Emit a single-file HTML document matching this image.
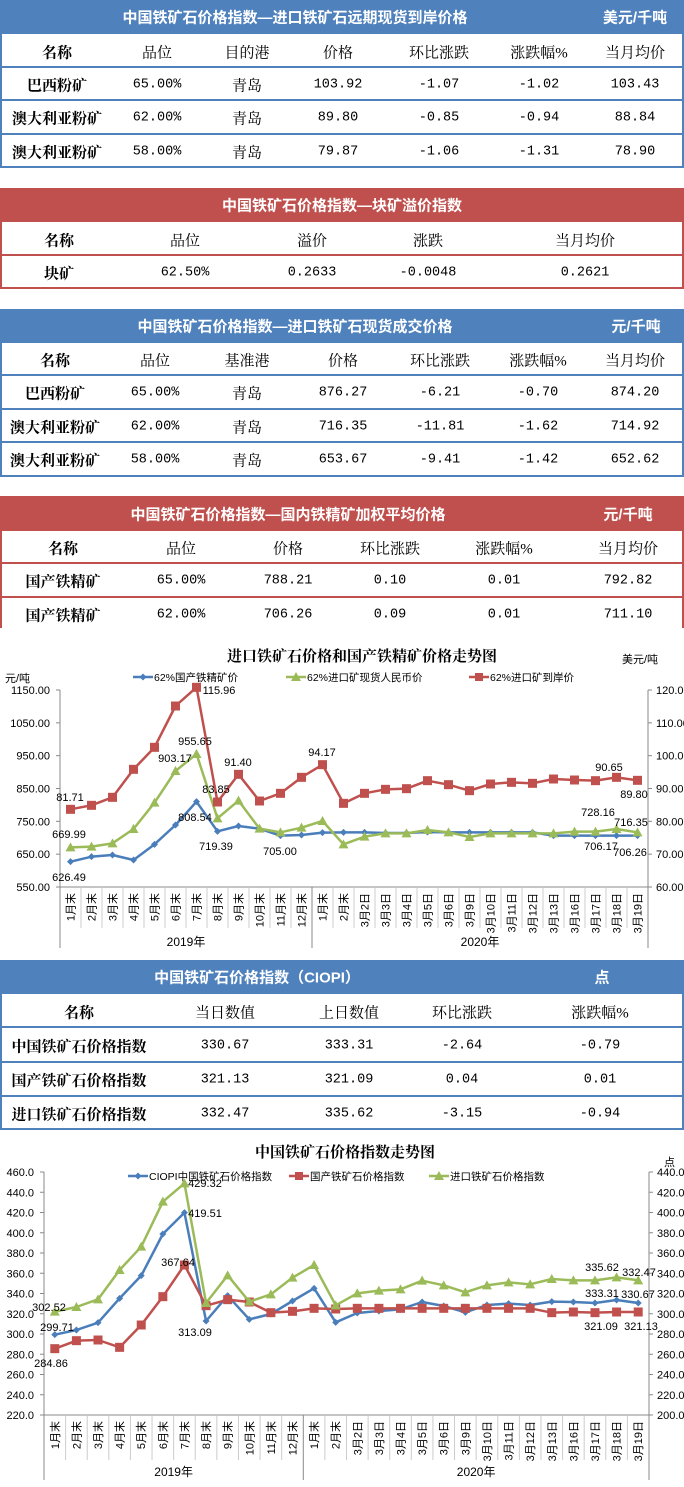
<!DOCTYPE html>
<html><head><meta charset="utf-8">
<style>
html,body{margin:0;padding:0;background:#fff;}
body{width:684px;height:1487px;position:relative;overflow:hidden;font-family:"Liberation Serif","Noto Serif CJK SC",serif;}
.bar{position:absolute;left:0;width:684px;}
.t{position:absolute;white-space:nowrap;transform:translate(-50%,-50%);}
.ttl{color:#fff;font-family:"Liberation Sans","Noto Sans CJK SC",sans-serif;font-weight:bold;font-size:15px;}
.hd{font-size:15px;color:#000;}
.nm{font-size:15px;font-weight:bold;color:#000;}
.num{font-family:"Liberation Mono","Noto Serif CJK SC",monospace;font-size:13.5px;letter-spacing:0px;color:#000;}
.hl{position:absolute;left:0;width:684px;height:2px;}
.vl{position:absolute;width:2px;}
svg{position:absolute;left:0;}
svg text{font-family:"Liberation Sans","Noto Sans CJK SC",sans-serif;}
</style></head><body>
<svg id="c1" style="top:630px" width="684" height="325"></svg>
<svg id="c2" style="top:1130px" width="684" height="357"></svg>
<script>
var root=document.body;
function el(h){var d=document.createElement('div');d.innerHTML=h;while(d.firstChild)root.appendChild(d.firstChild);}
var BLUE='#4f81bd',RED='#c0504d';
function table(o){
 var h='';
 h+='<div class="bar" style="top:'+o.top+'px;height:'+(o.hb-o.top)+'px;background:'+o.c+'"></div>';
 var ty=(o.top+o.hb)/2;
 h+='<div class="t ttl" style="left:'+o.tx+'px;top:'+ty+'px">'+o.title+'</div>';
 if(o.unit)h+='<div class="t ttl" style="left:'+o.ux+'px;top:'+ty+'px">'+o.unit+'</div>';
 var lines=o.lines;
 for(var i=0;i<lines.length;i++){ if(i==lines.length-1&&o.nobottom)continue; h+='<div class="hl" style="top:'+(lines[i]-1)+'px;background:'+o.c+'"></div>';}
 var bot=o.nobottom?o.end:lines[lines.length-1];
 h+='<div class="vl" style="left:0;top:'+o.hb+'px;height:'+(bot-o.hb)+'px;background:'+o.c+'"></div>';
 h+='<div class="vl" style="left:682px;top:'+o.hb+'px;height:'+(bot-o.hb)+'px;background:'+o.c+'"></div>';
 var ys=[o.hb].concat(lines);
 for(var r=0;r<o.rows.length;r++){
  var y0=ys[r],y1=ys[r+1];var cy=(y0+y1)/2+1;
  for(var c=0;c<o.rows[r].length;c++){
   var v=o.rows[r][c];
   var cls=r==0?'hd':(c==0?'nm':(/^[\-0-9.%]+$/.test(v)?'num':'hd'));
   if(r==0&&c==0)cls='nm';
   h+='<div class="t '+cls+'" style="left:'+o.cols[c]+'px;top:'+cy+'px">'+v+'</div>';
  }
 }
 el(h);
}
table({top:0,hb:34,c:BLUE,title:'中国铁矿石价格指数—进口铁矿石远期现货到岸价格',tx:295,unit:'美元/千吨',ux:635,
 lines:[67,100,134,167],cols:[57,157,247,338,439,539,635],
 rows:[['名称','品位','目的港','价格','环比涨跌','涨跌幅%','当月均价'],
 ['巴西粉矿','65.00%','青岛','103.92','-1.07','-1.02','103.43'],
 ['澳大利亚粉矿','62.00%','青岛','89.80','-0.85','-0.94','88.84'],
 ['澳大利亚粉矿','58.00%','青岛','79.87','-1.06','-1.31','78.90']]});
table({top:188,hb:222,c:RED,title:'中国铁矿石价格指数—块矿溢价指数',tx:342,
 lines:[255,288],cols:[59,185,312,428,585],
 rows:[['名称','品位','溢价','涨跌','当月均价'],['块矿','62.50%','0.2633','-0.0048','0.2621']]});
table({top:309,hb:343,c:BLUE,title:'中国铁矿石价格指数—进口铁矿石现货成交价格',tx:295,unit:'元/千吨',ux:636,
 lines:[375,409,442,476],cols:[55,155,247,343,440,538,635],
 rows:[['名称','品位','基准港','价格','环比涨跌','涨跌幅%','当月均价'],
 ['巴西粉矿','65.00%','青岛','876.27','-6.21','-0.70','874.20'],
 ['澳大利亚粉矿','62.00%','青岛','716.35','-11.81','-1.62','714.92'],
 ['澳大利亚粉矿','58.00%','青岛','653.67','-9.41','-1.42','652.62']]});
table({top:496,hb:531,c:RED,title:'中国铁矿石价格指数—国内铁精矿加权平均价格',tx:288,unit:'元/千吨',ux:628,
 lines:[563,597,631],nobottom:true,end:628,cols:[63,181,288,390,504,628],
 rows:[['名称','品位','价格','环比涨跌','涨跌幅%','当月均价'],
 ['国产铁精矿','65.00%','788.21','0.10','0.01','792.82'],
 ['国产铁精矿','62.00%','706.26','0.09','0.01','711.10']]});
table({top:960,hb:994,c:BLUE,title:'中国铁矿石价格指数（CIOPI）',tx:257,unit:'点',ux:602,
 lines:[1027,1062,1096,1129],cols:[79,225,349,462,600],
 rows:[['名称','当日数值','上日数值','环比涨跌','涨跌幅%'],
 ['中国铁矿石价格指数','330.67','333.31','-2.64','-0.79'],
 ['国产铁矿石价格指数','321.13','321.09','0.04','0.01'],
 ['进口铁矿石价格指数','332.47','335.62','-3.15','-0.94']]});

var cats=['1月末','2月末','3月末','4月末','5月末','6月末','7月末','8月末','9月末','10月末','11月末','12月末','1月末','2月末','3月2日','3月3日','3月4日','3月5日','3月6日','3月9日','3月10日','3月11日','3月12日','3月13日','3月16日','3月17日','3月18日','3月19日'];
var GB='#4a7ebb',GG='#9bbb59',GR='#c0504d';
function marker(t,x,y,c,s){
 if(t=='d')return '<polygon points="'+x+','+(y-s)+' '+(x+s)+','+y+' '+x+','+(y+s)+' '+(x-s)+','+y+'" fill="'+c+'"/>';
 if(t=='s')return '<rect x="'+(x-s)+'" y="'+(y-s)+'" width="'+2*s+'" height="'+2*s+'" fill="'+c+'"/>';
 return '<polygon points="'+x+','+(y-s-1)+' '+(x+s+1)+','+(y+s)+' '+(x-s-1)+','+(y+s)+'" fill="'+c+'"/>';
}
function chart(o){
 var s='';
 s+='<text x="'+o.title[1]+'" y="'+o.title[2]+'" font-size="15" font-weight="bold" text-anchor="middle" style="font-family:\'Liberation Serif\',\'Noto Serif CJK SC\',serif">'+o.title[0]+'</text>';
 o.extra.forEach(function(e){s+='<text x="'+e[1]+'" y="'+e[2]+'" font-size="11" '+(e[3]||'')+'>'+e[0]+'</text>';});
 s+='<line x1="'+o.L+'" y1="'+o.yT+'" x2="'+o.L+'" y2="'+o.yEnd+'" stroke="#888" stroke-width="1"/>';
 s+='<line x1="'+o.R+'" y1="'+o.yT+'" x2="'+o.R+'" y2="'+o.yEnd+'" stroke="#888" stroke-width="1"/>';
 s+='<line x1="'+o.L+'" y1="'+o.yB+'" x2="'+o.R+'" y2="'+o.yB+'" stroke="#888" stroke-width="1"/>';
 for(var i=0;i<o.lt.length;i++){var y=o.yB-(o.yB-o.yT)*i/(o.lt.length-1);
  s+='<text x="'+(o.L-10)+'" y="'+(y+4)+'" font-size="11" text-anchor="end">'+o.lt[i]+'</text>';
  s+='<line x1="'+(o.L-4)+'" y1="'+y+'" x2="'+o.L+'" y2="'+y+'" stroke="#888"/>';
  s+='<line x1="'+o.R+'" y1="'+y+'" x2="'+(o.R+4)+'" y2="'+y+'" stroke="#888"/>';
  s+='<text x="'+(o.R+8)+'" y="'+(y+4)+'" font-size="11">'+o.rt[i]+'</text>';}
 var w=(o.R-o.L)/28;
 for(var i=1;i<28;i++){var x=o.L+w*i;
  s+='<line x1="'+x+'" y1="'+o.yB+'" x2="'+x+'" y2="'+(i==12?o.yEnd:o.sepEnd)+'" stroke="'+(i==12?'#888':'#ccc')+'"/>';}
 for(var i=0;i<28;i++){var x=o.L+w*(i+0.5);
  s+='<text transform="translate('+(x+4)+','+(o.yB+6)+') rotate(-90)" font-size="11" text-anchor="end">'+cats[i]+'</text>';}
 s+='<text x="'+(o.L+w*6)+'" y="'+o.yrY+'" font-size="12" text-anchor="middle">2019年</text>';
 s+='<text x="'+(o.L+w*20)+'" y="'+o.yrY+'" font-size="12" text-anchor="middle">2020年</text>';
 o.leg.forEach(function(l){s+='<line x1="'+l[0]+'" y1="'+o.legY+'" x2="'+(l[0]+20)+'" y2="'+o.legY+'" stroke="'+l[2]+'" stroke-width="2.5"/>'+marker(l[3],l[0]+10,o.legY,l[2],l[3]=='d'?3.5:4)+'<text x="'+(l[0]+21)+'" y="'+(o.legY+4)+'" font-size="10.5">'+l[1]+'</text>';});
 o.ser.forEach(function(se){var pts=se.y.map(function(v,i){return [o.L+w*(i+0.5),v/3];});
  s+='<polyline points="'+pts.map(function(p){return p.join(',')}).join(' ')+'" fill="none" stroke="'+se.c+'" stroke-width="2.5" stroke-linejoin="round"/>';
  pts.forEach(function(p){s+=marker(se.m,p[0],p[1],se.c,se.m=='d'?3.5:(se.m=='s'?4.5:4));});});
 o.labels.forEach(function(l){s+='<text x="'+l[1]+'" y="'+(l[2]+4)+'" font-size="11" text-anchor="middle">'+l[0]+'</text>';});
 document.getElementById(o.id).innerHTML=s;
}
chart({id:'c1',title:['进口铁矿石价格和国产铁精矿价格走势图',362,31],
 extra:[['元/吨',5,52],['美元/吨',622,33]],
 L:60,R:648,yT:60,yB:257,yEnd:318,sepEnd:298,yrY:316,
 lt:['550.00','650.00','750.00','850.00','950.00','1050.00','1150.00'],rt:['60.00','70.00','80.00','90.00','100.00','110.00','120.00'],
 legY:47,leg:[[133,'62%国产铁精矿价',GB,'d'],[286,'62%进口矿现货人民币价',GG,'t'],[469,'62%进口矿到岸价',GR,'s']],
 ser:[{c:GB,m:'d',y:[695,680,675,690,643,585,515,604,588,596,617,615,608,607,607,609,609,606,607,607,607,607,607,617,617,617,617,617]},
 {c:GG,m:'t',y:[652,650,640,597,518,423,372,565,512,596,607,593,573,643,620,610,610,600,607,621,610,610,610,610,605,605,597,607]},
 {c:GR,m:'s',y:[538,526,502,418,352,228,172,516,433,513,490,442,404,520,490,478,476,452,464,482,462,457,460,447,450,452,442,451]}],
 labels:[['81.71',70,167],['669.99',69,204],['626.49',69,247],['903.17',175,128],['955.65',195,111],['115.96',219,60],['808.54',195,187],['83.85',216,159],['719.39',216,216],['91.40',238,132],['705.00',280,221],['94.17',322,122],['90.65',609,137],['728.16',598,182],['716.35',631,192],['89.80',634,164],['706.17',601,216],['706.26',630,222]]});
chart({id:'c2',title:['中国铁矿石价格指数走势图',345,27],
 extra:[['点',664,36]],
 L:44,R:649,yT:42,yB:285,yEnd:350,sepEnd:330,yrY:346,
 lt:['220.0','240.0','260.0','280.0','300.0','320.0','340.0','360.0','380.0','400.0','420.0','440.0','460.0'],
 rt:['200.0','220.0','240.0','260.0','280.0','300.0','320.0','340.0','360.0','380.0','400.0','420.0','440.0'],
 legY:46,leg:[[128,'CIOPI中国铁矿石价格指数',GB,'d'],[289,'国产铁矿石价格指数',GR,'s'],[429,'进口铁矿石价格指数',GG,'t']],
 ser:[{c:GB,m:'d',y:[614,600,578,505,437,312,248,573,497,568,552,513,475,577,549,543,538,516,528,547,525,521,525,515,516,519,510,519]},
 {c:GR,m:'s',y:[656,632,630,652,585,500,405,527,509,516,548,544,535,537,535,535,535,535,535,535,535,535,535,548,546,548,546,546]},
 {c:GG,m:'t',y:[545,531,508,420,350,215,160,519,436,515,493,443,405,526,490,482,478,452,466,487,466,457,463,447,451,451,442,451]}],
 labels:[['302.52',49,177],['299.71',57,197],['284.86',51,233],['429.32',205,53],['419.51',205,83],['367.64',178,132],['313.09',195,202],['335.62',602,137],['333.31',602,163],['332.47',639,142],['330.67',638,164],['321.09',601,196],['321.13',641,196]]});
</script>
</body></html>
